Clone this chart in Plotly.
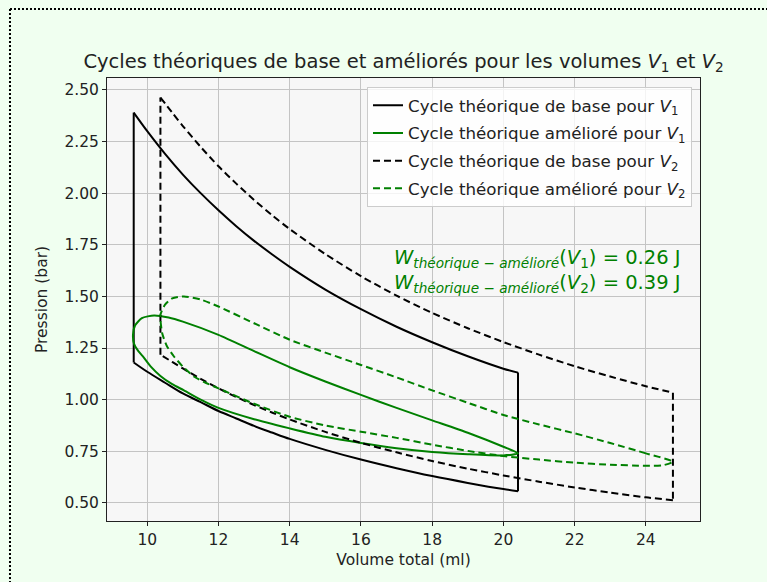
import plotly.graph_objects as go

# ---- data ----
# Base cycle V1 (isotherms + isochores)
base1_up_V = [9.62, 10, 10.5, 11, 11.5, 12, 12.5, 13, 13.5, 14, 15, 16, 17, 18, 19, 20, 20.41]
base1_up_P = [2.39, 2.30, 2.19, 2.09, 2.00, 1.917, 1.84, 1.769, 1.704, 1.643, 1.533, 1.438, 1.353, 1.278, 1.21, 1.15, 1.131]
base1_lo_V = [20.41, 20, 19, 18, 17, 16, 15, 14, 13.5, 13, 12.5, 12, 11.5, 11, 10.5, 10, 9.62]
base1_lo_P = [0.557, 0.567, 0.597, 0.63, 0.668, 0.71, 0.757, 0.81, 0.841, 0.873, 0.909, 0.945, 0.988, 1.03, 1.082, 1.135, 1.18]

# Base cycle V2
base2_up_V = [10.37, 10.7, 11, 11.5, 12, 12.5, 13, 13.5, 14, 15, 16, 17, 18, 19, 20, 21, 22, 23, 24, 24.76]
base2_up_P = [2.463, 2.39, 2.325, 2.224, 2.13, 2.046, 1.967, 1.894, 1.826, 1.705, 1.598, 1.504, 1.42, 1.346, 1.279, 1.218, 1.162, 1.112, 1.065, 1.034]
base2_lo_V = [24.76, 24, 23, 22, 21, 20, 19, 18, 17, 16, 15, 14, 13.5, 13, 12.5, 12, 11.5, 11, 10.7, 10.37]
base2_lo_P = [0.513, 0.527, 0.55, 0.575, 0.603, 0.633, 0.666, 0.703, 0.745, 0.791, 0.844, 0.904, 0.938, 0.974, 1.013, 1.055, 1.101, 1.151, 1.183, 1.217]

# Improved cycle V1 (closed loop: upper branch right->left, lower branch left->right)
imp1_V = [20.41, 20, 19, 18, 17, 16, 15, 14, 13, 12, 11, 10.6, 10.19, 9.85, 9.66, 9.6,
          9.63, 9.75, 9.9, 10.1, 10.37, 10.7, 11.03, 11.5, 12, 13, 14, 15, 16, 17, 18, 19, 20, 20.41]
imp1_P = [0.74, 0.772, 0.84, 0.90, 0.96, 1.023, 1.088, 1.157, 1.235, 1.314, 1.378, 1.398, 1.408, 1.395, 1.36, 1.314,
          1.27, 1.235, 1.205, 1.16, 1.115, 1.075, 1.045, 1.0, 0.96, 0.905, 0.861, 0.82, 0.79, 0.765, 0.747, 0.736, 0.73, 0.74]

# Improved cycle V2
imp2_V = [24.76, 24, 23, 22, 21, 20, 19, 18, 17, 16, 15, 14, 13, 12, 11.5, 11.03, 10.7, 10.5, 10.37,
          10.42, 10.55, 10.75, 11.0, 11.31, 11.6, 12, 13, 14, 15, 16, 17, 18, 19, 20, 21, 22, 23, 24, 24.5, 24.76]
imp2_P = [0.70, 0.74, 0.79, 0.837, 0.88, 0.926, 0.985, 1.045, 1.108, 1.168, 1.228, 1.29, 1.37, 1.451, 1.485, 1.50, 1.49, 1.46, 1.411,
          1.322, 1.26, 1.209, 1.16, 1.112, 1.085, 1.055, 0.98, 0.917, 0.875, 0.845, 0.815, 0.782, 0.752, 0.727, 0.71, 0.695, 0.685, 0.68, 0.683, 0.70]

W1 = 0.26
W2 = 0.39

x_ticks = [10, 12, 14, 16, 18, 20, 22, 24]
y_ticks = [0.50, 0.75, 1.00, 1.25, 1.50, 1.75, 2.00, 2.25, 2.50]

FONT = "DejaVu Sans"
DASH = "7px,4px"
TXT = "#222"

fig = go.Figure()


def add_base_cycle(up_V, up_P, lo_V, lo_P, dash, name, group):
    line_s = dict(color="black", width=2, dash=dash, shape="spline", smoothing=0.8)
    line_l = dict(color="black", width=2, dash=dash)
    # upper isotherm (legend entry)
    fig.add_trace(go.Scatter(x=up_V, y=up_P, mode="lines", line=line_s, name=name,
                             legendgroup=group, showlegend=True))
    # right isochore
    fig.add_trace(go.Scatter(x=[up_V[-1], lo_V[0]], y=[up_P[-1], lo_P[0]], mode="lines", line=line_l,
                             legendgroup=group, showlegend=False, hoverinfo="skip"))
    # lower isotherm
    fig.add_trace(go.Scatter(x=lo_V, y=lo_P, mode="lines", line=line_s,
                             legendgroup=group, showlegend=False))
    # left isochore
    fig.add_trace(go.Scatter(x=[lo_V[-1], up_V[0]], y=[lo_P[-1], up_P[0]], mode="lines", line=line_l,
                             legendgroup=group, showlegend=False, hoverinfo="skip"))


add_base_cycle(base1_up_V, base1_up_P, base1_lo_V, base1_lo_P, None,
               "Cycle théorique de base pour <i>V</i><sub>1</sub>", "a")
fig.add_trace(go.Scatter(x=imp1_V, y=imp1_P, mode="lines",
                         line=dict(color="green", width=2, shape="spline", smoothing=0.6),
                         name="Cycle théorique amélioré pour <i>V</i><sub>1</sub>", legendgroup="b"))
add_base_cycle(base2_up_V, base2_up_P, base2_lo_V, base2_lo_P, DASH,
               "Cycle théorique de base pour <i>V</i><sub>2</sub>", "c")
fig.add_trace(go.Scatter(x=imp2_V, y=imp2_P, mode="lines",
                         line=dict(color="green", width=2, dash=DASH, shape="spline", smoothing=0.6),
                         name="Cycle théorique amélioré pour <i>V</i><sub>2</sub>", legendgroup="d"))

sub = "<sub><i>théorique − amélioré</i></sub>"
fig.add_annotation(xref="paper", yref="paper", x=0.972, y=0.592, xanchor="right", yanchor="middle",
                   text=f"<i>W</i>{sub}(<i>V</i><sub>1</sub>) = {W1:.2f} J", showarrow=False,
                   font=dict(family=FONT, size=19.5, color="green"))
fig.add_annotation(xref="paper", yref="paper", x=0.972, y=0.537, xanchor="right", yanchor="middle",
                   text=f"<i>W</i>{sub}(<i>V</i><sub>2</sub>) = {W2:.2f} J", showarrow=False,
                   font=dict(family=FONT, size=19.5, color="green"))

# dotted frame around the picture
frame = dict(color="black", width=2, dash="2px,2px")
fig.add_shape(type="line", xref="paper", yref="paper", x0=-0.1636, x1=1.2, y0=1.156, y1=1.156, line=frame)
fig.add_shape(type="line", xref="paper", yref="paper", x0=-0.1636, x1=-0.1636, y0=1.156, y1=-0.2, line=frame)

axis_common = dict(showgrid=True, gridcolor="#c4c4c4", gridwidth=1, showline=True, linecolor=TXT,
                   linewidth=1, mirror=True, ticks="outside", ticklen=4, tickcolor=TXT, zeroline=False,
                   tickfont=dict(family=FONT, size=15.5, color=TXT))

fig.update_layout(
    width=767, height=582,
    margin=dict(l=107, r=67, t=78, b=61),
    paper_bgcolor="#f0fff0", plot_bgcolor="#f7f7f7",
    font=dict(family=FONT, color=TXT),
    title=dict(text="Cycles théoriques de base et améliorés pour les volumes <i>V</i><sub>1</sub> et <i>V</i><sub>2</sub>",
               x=0.5, xref="paper", y=1 - 61 / 582, yref="container", yanchor="middle",
               font=dict(family=FONT, size=19.5, color=TXT)),
    xaxis=dict(range=[8.87, 25.52], tickvals=x_ticks, ticktext=[str(v) for v in x_ticks],
               title=dict(text="Volume total (ml)", font=dict(family=FONT, size=15.5), standoff=6),
               **axis_common),
    yaxis=dict(range=[0.4125, 2.5575], tickvals=y_ticks, ticktext=[f"{v:.2f}" for v in y_ticks],
               title=dict(text="Pression (bar)", font=dict(family=FONT, size=15.5), standoff=12),
               **axis_common),
    legend=dict(x=0.9865, y=0.98, xanchor="right", yanchor="top", bgcolor="rgba(255,255,255,0.8)",
                bordercolor="#cccccc", borderwidth=1, font=dict(family=FONT, size=16.7, color=TXT),
                tracegroupgap=3, traceorder="grouped"),
    showlegend=True,
)

fig.write_html("out.html")
